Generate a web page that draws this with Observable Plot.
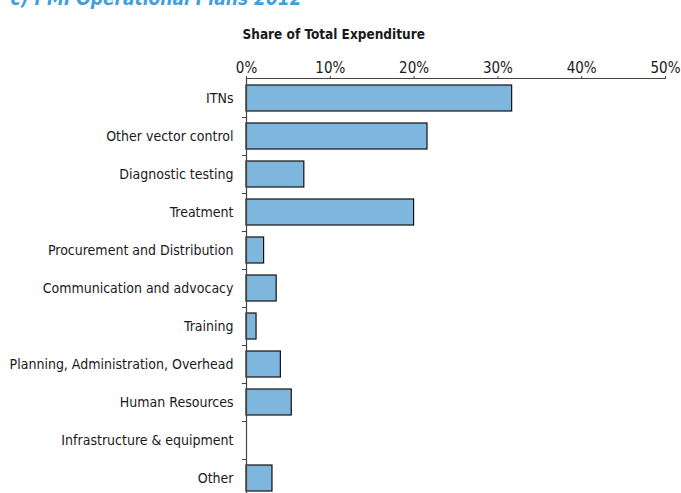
<!DOCTYPE html>
<html>
<head>
<meta charset="utf-8">
<script src="https://cdn.jsdelivr.net/npm/d3@7"></script>
<script src="https://cdn.jsdelivr.net/npm/@observablehq/plot@0.6"></script>
<style>
  html, body { margin: 0; padding: 0; background: white; }
  #chart svg { display: block; }
</style>
</head>
<body>
<div id="chart"></div>
<script>
const categories = [
  "ITNs",
  "Other vector control",
  "Diagnostic testing",
  "Treatment",
  "Procurement and Distribution",
  "Communication and advocacy",
  "Training",
  "Planning, Administration, Overhead",
  "Human Resources",
  "Infrastructure & equipment",
  "Other"
];
const shares = [31.7, 21.6, 6.9, 20.0, 2.1, 3.6, 1.2, 4.1, 5.4, 0, 3.1];
const xTicks = [0, 10, 20, 30, 40, 50];
const chartTitle = "c) PMI Operational Plans 2012";
const axisTitle = "Share of Total Expenditure";

const data = categories.map((c, i) => ({category: c, share: shares[i]}));

const W = 681, H = 493;
const mTop = 78, mLeft = 246, mRight = 16;
const yRange = [78, 497];
const step = (yRange[1] - yRange[0]) / categories.length;
const plotW = W - mLeft - mRight;
const font = "'Liberation Sans Narrow', 'Arial Narrow', 'DejaVu Sans Condensed', sans-serif";

const chart = Plot.plot({
  width: W,
  height: H,
  marginTop: mTop,
  marginLeft: mLeft,
  marginRight: mRight,
  marginBottom: 0,
  style: {fontFamily: font, fontSize: "14px", color: "#1a1a1a", background: "white"},
  x: {domain: [0, 50]},
  y: {domain: categories, range: yRange, paddingInner: 0.32, paddingOuter: 0.16},
  marks: [
    Plot.barX(data, {x: "share", y: "category", fill: "#7fb6dd", stroke: "#111", strokeWidth: 1.2}),
    Plot.ruleX([0], {stroke: "#444", strokeWidth: 1.2}),
    Plot.frame({stroke: "#444", strokeWidth: 1.2, fill: "none", strokeDasharray: `${plotW} 5000`}),
    Plot.ruleY(categories, {y: d => d, x1: -0.5, x2: 0, dy: step / 2, stroke: "#444"}),
    Plot.axisX({anchor: "top", ticks: xTicks, tickFormat: d => d + "%", tickSize: 3, tickPadding: 3, label: null, fontSize: 15, stroke: "#444"}),
    Plot.axisY({tickSize: 0, tickPadding: 13, label: null, fontSize: 14}),
    Plot.text([axisTitle], {text: d => d, frameAnchor: "top-left", dx: -4, dy: -49, textAnchor: "start", fontWeight: "bold", fontSize: 13.5, fill: "#1a1a1a"}),
    Plot.text([chartTitle], {text: d => d, frameAnchor: "top-left", dx: -236, dy: -87, textAnchor: "start", fontWeight: "bold", fontStyle: "italic", fontSize: 19, fill: "#3fa0dc"})
  ]
});
document.getElementById("chart").appendChild(chart);
</script>
</body>
</html>
